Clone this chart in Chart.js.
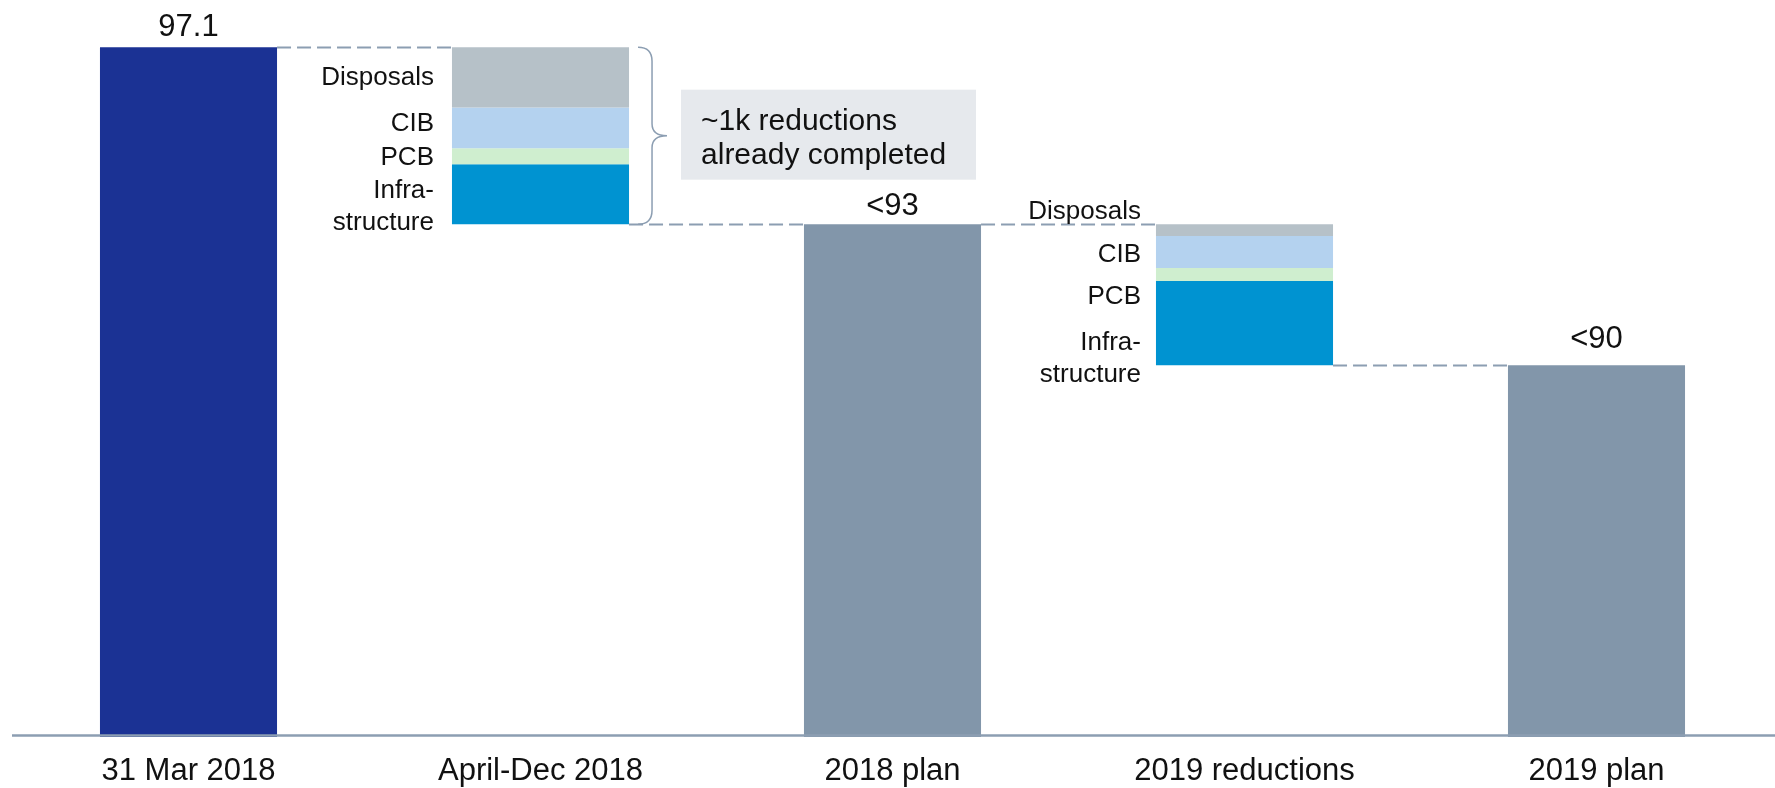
<!DOCTYPE html>
<html>
<head>
<meta charset="utf-8">
<script src="https://cdn.jsdelivr.net/npm/chart.js@4/dist/chart.umd.min.js"></script>
<style>
html, body { margin: 0; padding: 0; background: #fff; }
#wrap { width: 1775px; height: 788px; }
</style>
</head>
<body>
<div id="wrap"><canvas id="chart" width="1775" height="788"></canvas></div>
<script>
// values (thousands)
const categories = ['31 Mar 2018', 'April-Dec 2018', '2018 plan', '2019 reductions', '2019 plan'];
const totals = [97.1, null, 92.9, null, 89.55];
const totalLabels = ['97.1', '', '<93', '', '<90'];
const segmentNames = ['Disposals', 'CIB', 'PCB', 'Infrastructure'];
const segmentLabelLines = [['Disposals'], ['CIB'], ['PCB'], ['Infra-', 'structure']];
const reductions2018 = [1.43, 0.97, 0.38, 1.42];
const reductions2019 = [0.28, 0.76, 0.31, 2.0];
const noteLines = ['~1k reductions', 'already completed'];

const FONT = "'Liberation Sans', Arial, sans-serif";
const totalColors = ['#1B3294', 'transparent', '#8296AA', 'transparent', '#8296AA'];
const segmentColors = ['#B6C1C8', '#B4D2EF', '#CFEECF', '#0093D1'];
const lineColor = '#8C9EB2';

// label nudges in px so the texts don't collide
const labelNudge = { 1: [1, -4, 1, 13], 3: [-18, 3, 22, 36] };
const labelGap = { 1: 18, 3: 15 };

function stepRanges(top, steps) {
    let level = top;
    return steps.map(v => {
        const r = [level - v, level];
        level -= v;
        return r;
    });
}

const ranges = {
    1: stepRanges(totals[0], reductions2018),
    3: stepRanges(totals[2], reductions2019)
};

const datasets = [{
    label: 'Total',
    data: totals,
    backgroundColor: totalColors
}];

segmentNames.forEach((name, k) => {
    const data = categories.map(() => null);
    data[1] = ranges[1][k];
    data[3] = ranges[3][k];
    datasets.push({ label: name, data: data, backgroundColor: segmentColors[k] });
});

const decor = {
    id: 'decor',
    afterDatasetsDraw(chart) {
        const ctx = chart.ctx;
        const xs = chart.scales.x;
        const ys = chart.scales.y;
        const area = chart.chartArea;
        const w = chart.getDatasetMeta(0).data[0].width;
        const left = i => xs.getPixelForValue(i) - w / 2;
        const right = i => xs.getPixelForValue(i) + w / 2;

        ctx.save();

        // base line
        ctx.strokeStyle = lineColor;
        ctx.lineWidth = 2.5;
        ctx.beginPath();
        ctx.moveTo(12, area.bottom - 1.5);
        ctx.lineTo(chart.width, area.bottom - 1.5);
        ctx.stroke();

        // dashed connectors
        ctx.setLineDash([14, 6]);
        ctx.lineWidth = 2;
        for (let i = 0; i < categories.length - 1; i++) {
            const level = totals[i] != null ? totals[i] : totals[i + 1];
            const y = Math.round(ys.getPixelForValue(level)) + 0.5;
            ctx.beginPath();
            ctx.moveTo(right(i), y);
            ctx.lineTo(left(i + 1), y);
            ctx.stroke();
        }
        ctx.setLineDash([]);

        // brace next to April-Dec 2018
        const bTop = ys.getPixelForValue(totals[0]);
        const bBot = ys.getPixelForValue(totals[2]);
        const bMid = (bTop + bBot) / 2;
        const bx0 = right(1) + 9;
        const bx1 = bx0 + 14;
        const tipX = bx0 + 29;
        ctx.strokeStyle = lineColor;
        ctx.lineWidth = 1.5;
        ctx.beginPath();
        ctx.moveTo(bx0, bTop);
        ctx.quadraticCurveTo(bx1, bTop, bx1, bTop + 14);
        ctx.lineTo(bx1, bMid - 12);
        ctx.quadraticCurveTo(bx1, bMid, tipX, bMid);
        ctx.quadraticCurveTo(bx1, bMid, bx1, bMid + 12);
        ctx.lineTo(bx1, bBot - 14);
        ctx.quadraticCurveTo(bx1, bBot, bx0, bBot);
        ctx.stroke();

        // note box
        const boxX = tipX + 14;
        const boxY = bMid - 46;
        ctx.fillStyle = '#E6E9ED';
        ctx.fillRect(boxX, boxY, 295, 90);
        ctx.fillStyle = '#111';
        ctx.font = '30px ' + FONT;
        ctx.textAlign = 'left';
        ctx.textBaseline = 'alphabetic';
        noteLines.forEach((t, j) => ctx.fillText(t, boxX + 20, boxY + 40 + j * 34));

        // values on totals
        ctx.font = '31px ' + FONT;
        ctx.textAlign = 'center';
        ctx.textBaseline = 'alphabetic';
        const valueGap = [11, 0, 9, 0, 17];
        totals.forEach((v, i) => {
            if (v == null) return;
            ctx.fillText(totalLabels[i], xs.getPixelForValue(i), ys.getPixelForValue(v) - valueGap[i]);
        });

        // segment names left of the steps
        ctx.font = '26px ' + FONT;
        ctx.textAlign = 'right';
        ctx.textBaseline = 'middle';
        [1, 3].forEach(i => {
            const tx = left(i) - labelGap[i];
            ranges[i].forEach((r, k) => {
                const cy = (ys.getPixelForValue(r[0]) + ys.getPixelForValue(r[1])) / 2 + labelNudge[i][k];
                const lines = segmentLabelLines[k];
                lines.forEach((t, j) => {
                    ctx.fillText(t, tx, cy + (j - (lines.length - 1) / 2) * 32);
                });
            });
        });

        ctx.restore();
    }
};

new Chart(document.getElementById('chart'), {
    type: 'bar',
    data: {
        labels: categories,
        datasets: datasets
    },
    options: {
        responsive: false,
        animation: false,
        devicePixelRatio: 1,
        layout: { padding: { left: 12.5, right: 2.5, top: 0, bottom: 0 } },
        datasets: {
            bar: {
                grouped: false,
                barPercentage: 0.503,
                categoryPercentage: 1,
                borderWidth: 0
            }
        },
        plugins: {
            legend: { display: false },
            tooltip: { enabled: false }
        },
        scales: {
            x: {
                grid: { display: false, drawTicks: false },
                border: { display: false },
                ticks: {
                    color: '#111',
                    font: { family: FONT, size: 31 },
                    padding: 16,
                    maxRotation: 0,
                    autoSkip: false
                },
                afterFit: function(scale) {
                    scale.height = 51;
                }
            },
            y: {
                display: false,
                min: 80.73,
                max: 98.22
            }
        }
    },
    plugins: [decor]
});
</script>
</body>
</html>
